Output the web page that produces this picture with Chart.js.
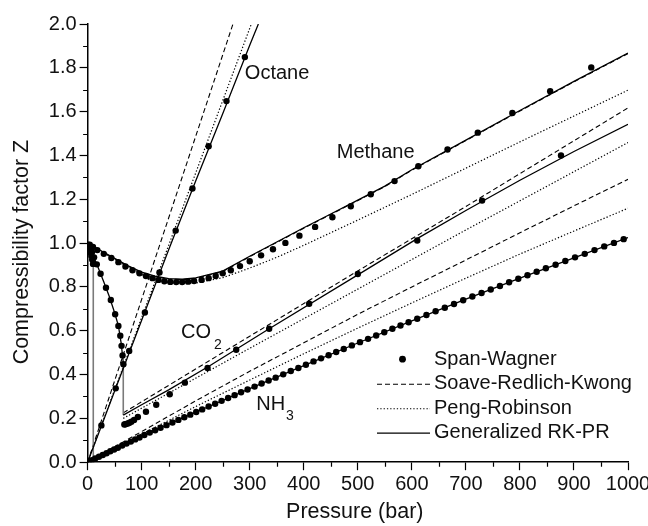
<!DOCTYPE html>
<html>
<head>
<meta charset="utf-8">
<script src="https://cdn.jsdelivr.net/npm/chart.js@4.4.1/dist/chart.umd.min.js"></script>
<style>
  body { margin: 0; background: #fff; }
  canvas { display: block; }
</style>
</head>
<body>
<canvas id="chart" width="648" height="526"></canvas>
<script>
// ---- data (pressure in bar, compressibility factor Z) ----

// Span-Wagner reference points
const octaneSwP = [25.5, 52, 77, 106, 133, 163, 194, 224, 257, 291];
const octaneSwZ = [0.168, 0.337, 0.508, 0.683, 0.866, 1.057, 1.249, 1.442, 1.648, 1.849];

const methaneSwP = [4, 10, 18, 30, 44, 57, 70, 83, 96, 108, 120, 131, 142, 153, 164, 175, 186, 197, 211, 224, 237, 250, 265, 282, 300, 321, 343, 366, 392, 421, 453, 487, 524, 568, 612, 666, 722, 786, 856, 932];
const methaneSwZ = [0.993, 0.982, 0.968, 0.951, 0.932, 0.913, 0.893, 0.876, 0.862, 0.85, 0.84, 0.832, 0.826, 0.823, 0.822, 0.822, 0.824, 0.827, 0.832, 0.84, 0.85, 0.862, 0.876, 0.895, 0.917, 0.944, 0.972, 1.001, 1.034, 1.074, 1.118, 1.168, 1.223, 1.283, 1.351, 1.427, 1.504, 1.594, 1.693, 1.802];

const co2SwP = [2, 5, 8, 12, 17, 24, 34, 43, 51, 57, 60.5, 62.8, 64.7, 66.3,
                68, 70, 72, 74.5, 77.5, 81, 86, 93, 108, 127, 152, 180, 222, 275, 336, 410, 500, 610, 730, 876];
const co2SwZ = [0.99, 0.975, 0.958, 0.935, 0.903, 0.86, 0.796, 0.74, 0.675, 0.622, 0.577, 0.531, 0.487, 0.447,
                0.172, 0.173, 0.175, 0.177, 0.18, 0.185, 0.193, 0.206, 0.23, 0.262, 0.31, 0.363, 0.43, 0.513, 0.609, 0.723, 0.859, 1.012, 1.194, 1.40];

// NH3: saturated vapour branch near the axis, then the liquid branch
const nh3SwP = [1, 2.5, 4, 5.5, 7, 8.5, 10,
                2, 8, 14, 21, 28, 35, 42, 49, 56, 64, 72, 80, 88, 96,
                105, 115, 125, 135, 146, 157, 168, 179, 190, 201, 212, 224, 236, 248, 260, 272, 284, 296,
                309, 322, 335, 348, 362, 376, 390, 404, 418, 432, 446, 460, 474, 489, 504, 519, 534, 549, 564, 579, 594,
                610, 627, 644, 661, 678, 695, 712, 729, 746, 763, 780, 797, 814, 831, 848, 866, 884, 902, 920, 938, 956, 974, 992];
const nh3SwZ = [0.993, 0.982, 0.97, 0.957, 0.942, 0.925, 0.905,
                0.002, 0.009, 0.017, 0.025, 0.033, 0.041, 0.05, 0.058, 0.066, 0.076, 0.085, 0.094, 0.104, 0.113,
                0.124, 0.135, 0.146, 0.157, 0.169, 0.181, 0.193, 0.205, 0.217, 0.229, 0.241, 0.254, 0.267, 0.28, 0.293, 0.306, 0.319, 0.332,
                0.345, 0.359, 0.373, 0.386, 0.401, 0.416, 0.43, 0.445, 0.46, 0.474, 0.488, 0.503, 0.517, 0.533, 0.548, 0.563, 0.578, 0.593, 0.609, 0.624, 0.639,
                0.655, 0.672, 0.689, 0.705, 0.722, 0.739, 0.756, 0.772, 0.788, 0.804, 0.821, 0.837, 0.853, 0.869, 0.885, 0.901, 0.918, 0.935, 0.951, 0.968, 0.985, 1.001, 1.018];

// Soave-Redlich-Kwong
const octaneSrkP = [0, 100, 200, 269];
const octaneSrkZ = [0, 0.743, 1.487, 2.0];
const methaneSrkP = [0, 25, 50, 75, 100, 125, 150, 175, 200, 250, 300, 350, 400, 450, 500, 550, 600, 700, 800, 900, 1000];
const methaneSrkZ = [1.0, 0.964, 0.928, 0.894, 0.866, 0.847, 0.836, 0.833, 0.839, 0.87, 0.938, 1.003, 1.068, 1.131, 1.194, 1.258, 1.333, 1.468, 1.603, 1.736, 1.865];
const co2SrkP = [66, 300, 500, 700, 1000];
const co2SrkZ = [0.225, 0.575, 0.873, 1.167, 1.617];
const nh3SrkP = [10.5, 100, 200, 300, 400, 500, 600, 700, 800, 900, 1000];
const nh3SrkZ = [0.014, 0.14, 0.28, 0.415, 0.545, 0.675, 0.8, 0.923, 1.047, 1.17, 1.291];

// Peng-Robinson
const octanePrP = [0, 100, 200, 303];
const octanePrZ = [0, 0.66, 1.32, 2.0];
const methanePrP = [0, 25, 50, 75, 100, 125, 150, 175, 200, 250, 300, 350, 400, 500, 600, 700, 800, 900, 1000];
const methanePrZ = [1.0, 0.962, 0.925, 0.888, 0.856, 0.833, 0.82, 0.815, 0.818, 0.842, 0.886, 0.935, 0.99, 1.105, 1.222, 1.342, 1.462, 1.58, 1.698];
const co2PrP = [66, 150, 300, 500, 700, 1000];
const co2PrZ = [0.2, 0.315, 0.52, 0.79, 1.06, 1.459];
const nh3PrP = [10.5, 100, 200, 300, 400, 500, 600, 700, 800, 900, 1000];
const nh3PrZ = [0.013, 0.128, 0.254, 0.375, 0.495, 0.612, 0.727, 0.84, 0.95, 1.055, 1.159];

// Generalized RK-PR (vertical steps = phase change)
const octaneRkprP = [0, 25.5, 50, 100, 150, 200, 250, 300, 316];
const octaneRkprZ = [0, 0.165, 0.325, 0.648, 0.97, 1.283, 1.59, 1.903, 2.0];
const methaneRkprP = [0, 25, 50, 75, 100, 125, 150, 175, 200, 250, 300, 350, 400, 450, 500, 550, 600, 700, 800, 900, 1000];
const methaneRkprZ = [1.0, 0.965, 0.93, 0.896, 0.868, 0.849, 0.838, 0.835, 0.841, 0.872, 0.94, 1.005, 1.07, 1.133, 1.196, 1.26, 1.335, 1.47, 1.605, 1.738, 1.867];
const co2RkprP = [0, 10, 20, 30, 40, 50, 57, 62, 66, 66, 100, 150, 226, 336, 500, 613, 700, 800, 900, 1000];
const co2RkprZ = [1.0, 0.945, 0.885, 0.822, 0.757, 0.682, 0.622, 0.545, 0.455, 0.215, 0.262, 0.33, 0.44, 0.609, 0.855, 1.025, 1.149, 1.287, 1.418, 1.542];
const nh3RkprP = [0, 10.5, 10.5, 100, 200, 300, 400, 500, 600, 700, 800, 900, 1000];
const nh3RkprZ = [1.0, 0.895, 0.012, 0.118, 0.228, 0.336, 0.441, 0.544, 0.645, 0.744, 0.84, 0.933, 1.025];

const legendLabels = ['Span-Wagner', 'Soave-Redlich-Kwong', 'Peng-Robinson', 'Generalized RK-PR'];
const xTitle = 'Pressure (bar)';
const yTitle = 'Compressibility factor Z';

// ---- styling ----
const FONT = '"Liberation Sans", Arial, Helvetica, sans-serif';
const INK = '#111';

function pts(P, Z) {
  return P.map((p, i) => ({ x: p, y: Z[i] }));
}

function dots(P, Z) {
  return { data: pts(P, Z), showLine: false, pointRadius: 3.2, pointBackgroundColor: '#000', pointBorderWidth: 0, order: 0 };
}
function srk(P, Z) {
  return { data: pts(P, Z), showLine: true, pointRadius: 0, borderColor: '#000', borderWidth: 1.1, borderDash: [5, 3], order: 2 };
}
function pr(P, Z) {
  return { data: pts(P, Z), showLine: true, pointRadius: 0, borderColor: '#000', borderWidth: 1.2, borderDash: [1.3, 2], order: 2 };
}
function rkpr(P, Z) {
  return {
    data: pts(P, Z), showLine: true, pointRadius: 0, borderColor: '#000', borderWidth: 1.3, order: 1,
    segment: {
      borderColor: c => (c.p0.parsed.x === c.p1.parsed.x ? '#7a7a7a' : '#000'),
      borderWidth: c => (c.p0.parsed.x === c.p1.parsed.x ? 1.6 : 1.3)
    }
  };
}

const datasets = [
  dots(octaneSwP, octaneSwZ), dots(methaneSwP, methaneSwZ), dots(co2SwP, co2SwZ), dots(nh3SwP, nh3SwZ),
  rkpr(octaneRkprP, octaneRkprZ), rkpr(methaneRkprP, methaneRkprZ), rkpr(co2RkprP, co2RkprZ), rkpr(nh3RkprP, nh3RkprZ),
  srk(octaneSrkP, octaneSrkZ), srk(methaneSrkP, methaneSrkZ), srk(co2SrkP, co2SrkZ), srk(nh3SrkP, nh3SrkZ),
  pr(octanePrP, octanePrZ), pr(methanePrP, methanePrZ), pr(co2PrP, co2PrZ), pr(nh3PrP, nh3PrZ)
];

// minor ticks, curve labels and the legend box
const decor = {
  id: 'decor',
  afterDraw(chart) {
    const ctx = chart.ctx;
    const xs = chart.scales.x, ys = chart.scales.y;
    const area = chart.chartArea;
    ctx.save();

    ctx.strokeStyle = '#000';
    ctx.lineWidth = 1.2;
    ctx.beginPath();
    for (let v = 50; v < 1000; v += 100) {
      const px = Math.round(xs.getPixelForValue(v)) + 0.5;
      ctx.moveTo(px, area.bottom);
      ctx.lineTo(px, area.bottom + 4.5);
    }
    for (let v = 0.1; v < 2; v += 0.2) {
      const py = Math.round(ys.getPixelForValue(v)) + 0.5;
      ctx.moveTo(area.left, py);
      ctx.lineTo(area.left - 4.5, py);
    }
    ctx.stroke();

    ctx.fillStyle = INK;
    ctx.textBaseline = 'middle';
    ctx.textAlign = 'left';
    ctx.font = '20px ' + FONT;
    const at = (p, z) => [xs.getPixelForValue(p), ys.getPixelForValue(z)];

    let [tx, ty] = at(291, 1.774);
    ctx.fillText('Octane', tx, ty);
    [tx, ty] = at(461, 1.415);
    ctx.fillText('Methane', tx, ty);
    [tx, ty] = at(173, 0.592);
    ctx.fillText('CO', tx, ty);
    let w = ctx.measureText('CO').width;
    ctx.font = '14px ' + FONT;
    ctx.fillText('2', tx + w + 3, ty + 13);
    ctx.font = '20px ' + FONT;
    [tx, ty] = at(312, 0.264);
    ctx.fillText('NH', tx, ty);
    w = ctx.measureText('NH').width;
    ctx.font = '14px ' + FONT;
    ctx.fillText('3', tx + w + 1, ty + 12);

    // legend
    const lx = area.right - 194, ly = area.bottom - 103, step = 24.5;
    ctx.font = '20px ' + FONT;
    legendLabels.forEach((label, i) => {
      const y = ly + i * step;
      ctx.fillStyle = INK;
      ctx.fillText(label, lx, y);
      ctx.strokeStyle = '#000';
      if (i === 0) {
        ctx.beginPath();
        ctx.arc(lx - 31.5, y, 3.4, 0, Math.PI * 2);
        ctx.fillStyle = '#000';
        ctx.fill();
      } else {
        ctx.beginPath();
        ctx.setLineDash(i === 1 ? [5, 3] : i === 2 ? [1.3, 2] : []);
        ctx.lineWidth = i === 3 ? 1.3 : 1.15;
        ctx.moveTo(lx - 57, y + 0.5);
        ctx.lineTo(lx - 4, y + 0.5);
        ctx.stroke();
        ctx.setLineDash([]);
      }
    });
    ctx.restore();
  }
};

const tickFont = { family: FONT, size: 20 };
const titleFont = { family: FONT, size: 21.5 };

new Chart(document.getElementById('chart'), {
  type: 'scatter',
  data: { datasets: datasets },
  plugins: [decor],
  options: {
    responsive: false,
    animation: false,
    layout: { padding: { left: 4, top: 24, right: 0, bottom: 1 } },
    plugins: { legend: { display: false }, tooltip: { enabled: false } },
    elements: { line: { tension: 0 } },
    scales: {
      x: {
        type: 'linear', min: 0, max: 1000,
        afterFit: s => { s.paddingRight = 20; },
        ticks: { stepSize: 100, font: tickFont, color: INK, padding: 2, maxRotation: 0, callback: v => String(v) },
        grid: { drawOnChartArea: false, drawTicks: true, tickLength: 8, tickColor: '#000', tickWidth: 1.2 },
        border: { color: '#000', width: 1.5 },
        // trailing space nudges the centred title a few px left, as in the original
        title: { display: true, text: xTitle + ' ', font: titleFont, color: INK, padding: { top: 1, bottom: 0 } }
      },
      y: {
        type: 'linear', min: 0, max: 2,
        ticks: { stepSize: 0.2, font: tickFont, color: INK, padding: 3, callback: v => v.toFixed(1) },
        grid: { drawOnChartArea: false, drawTicks: true, tickLength: 8, tickColor: '#000', tickWidth: 1.2 },
        border: { color: '#000', width: 1.5 },
        // original title sits a little below the axis centre
        title: { display: true, text: yTitle + '   ', font: titleFont, color: INK, padding: { top: 5, bottom: 11 } }
      }
    }
  }
});
</script>
</body>
</html>
